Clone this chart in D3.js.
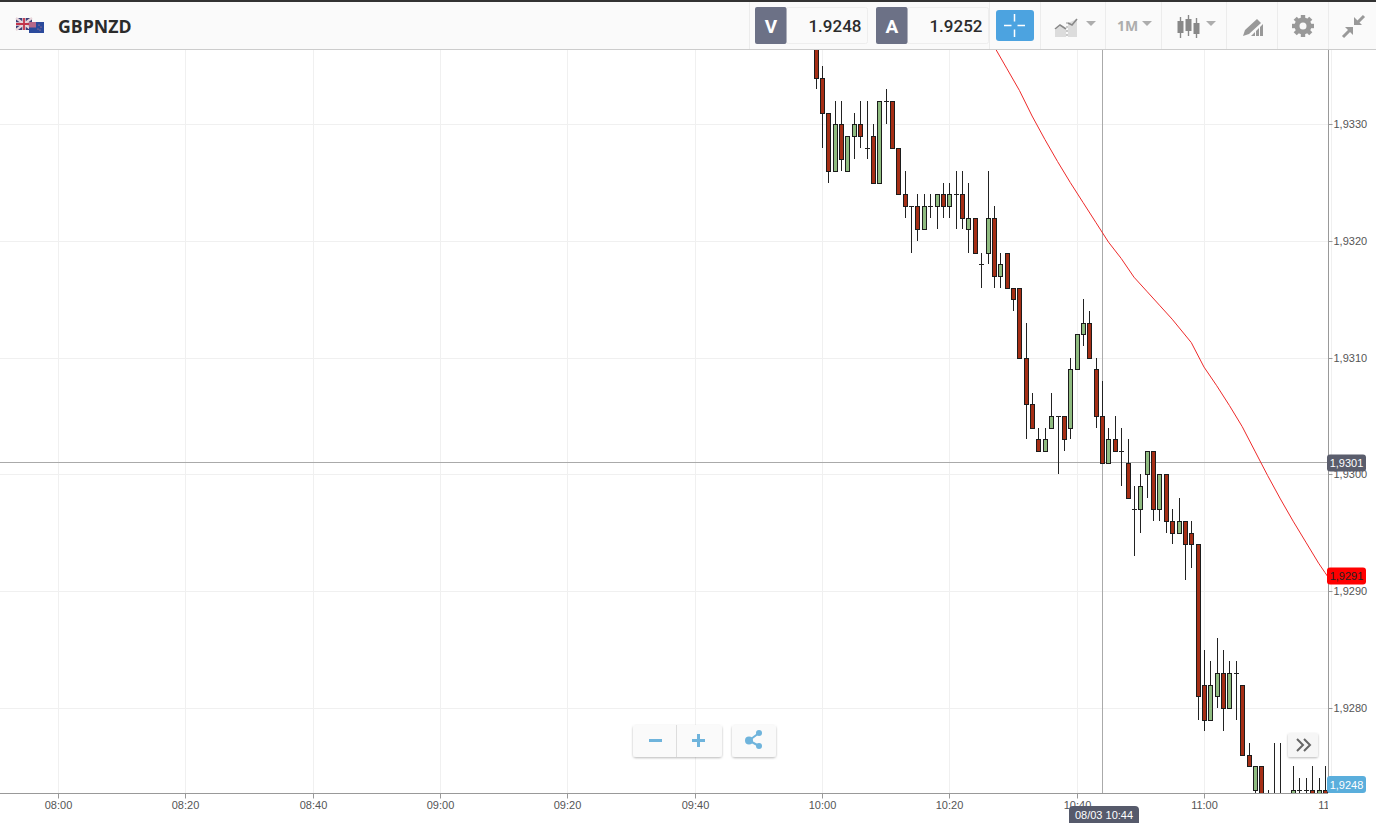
<!DOCTYPE html>
<html>
<head>
<meta charset="utf-8">
<script src="https://cdn.jsdelivr.net/npm/d3@7"></script>
<style>
html,body{margin:0;padding:0;background:#fff;overflow:hidden}
svg{display:block}
.axis text{font-family:"Liberation Sans",Arial,sans-serif;font-size:11px;fill:#555}
.pill{font-family:"Liberation Sans",Arial,sans-serif;font-size:11px}
</style>
</head>
<body>
<svg id="c" width="1376" height="823"></svg>
<script>
// ---- data ----
const symbol = "GBPNZD";
const bidPrice = "1.9248", askPrice = "1.9252";
const candleStart = "09:59";
const opens  = [1.9338,1.9334,1.9331,1.9326,1.9330,1.9326,1.9329,1.9330,1.9328,1.9329,1.9325,1.9332,1.9332,1.9328,1.9324,1.9323,1.9323,1.9321,1.9323,1.9323,1.9324,1.9323,1.9324,1.9324,1.9321,1.9322,1.9318,1.9319,1.9322,1.9317,1.9319,1.9316,1.9316,1.9310,1.9306,1.9303,1.9302,1.9304,1.9305,1.9305,1.9304,1.9309,1.9312,1.9313,1.9309,1.9305,1.9301,1.9303,1.9302,1.9301,1.9297,1.9297,1.9300,1.9302,1.9297,1.9300,1.9296,1.9295,1.9296,1.9295,1.9294,1.9282,1.9279,1.9281,1.9283,1.9280,1.9283,1.9282,1.9276,1.9273,1.9275,1.9272,1.9271,1.9271,1.9271,1.9272,1.9273,1.9273,1.9273,1.9272,1.9273];
const closes = [1.9334,1.9331,1.9326,1.9330,1.9327,1.9329,1.9330,1.9329,1.9328,1.9325,1.9332,1.9332,1.9328,1.9324,1.9323,1.9323,1.9321,1.9323,1.9323,1.9324,1.9323,1.9324,1.9324,1.9322,1.9322,1.9319,1.9318,1.9322,1.9317,1.9318,1.9316,1.9315,1.9310,1.9306,1.9304,1.9302,1.9303,1.9305,1.9305,1.9303,1.9309,1.9312,1.9313,1.9310,1.9305,1.9301,1.9303,1.9302,1.9302,1.9298,1.9297,1.9299,1.9302,1.9297,1.9300,1.9296,1.9295,1.9296,1.9294,1.9294,1.9281,1.9279,1.9282,1.9283,1.9280,1.9283,1.9283,1.9276,1.9275,1.9275,1.9272,1.9272,1.9270,1.9270,1.9270,1.9273,1.9273,1.9273,1.9272,1.9273,1.9272];
const highs  = [1.9339,1.9335,1.9331,1.9332,1.9332,1.9329,1.9331,1.9332,1.9332,1.9330,1.9332,1.9333,1.9332,1.9328,1.9326,1.9323,1.9324,1.9324,1.9324,1.9324,1.9325,1.9325,1.9326,1.9326,1.9325,1.9322,1.9319,1.9326,1.9323,1.9319,1.9319,1.9316,1.9316,1.9313,1.9307,1.9304,1.9304,1.9307,1.9305,1.9305,1.9310,1.9312,1.9315,1.9314,1.9310,1.9308,1.9304,1.9305,1.9304,1.9303,1.9299,1.9300,1.9302,1.9302,1.9300,1.9300,1.9297,1.9298,1.9296,1.9296,1.9294,1.9285,1.9284,1.9286,1.9285,1.9284,1.9284,1.9282,1.9277,1.9275,1.9275,1.9273,1.9277,1.9277,1.9271,1.9275,1.9274,1.9274,1.9275,1.9274,1.9275];
const lows   = [1.9333,1.9328,1.9325,1.9326,1.9326,1.9326,1.9327,1.9328,1.9327,1.9325,1.9325,1.9330,1.9328,1.9324,1.9322,1.9319,1.9320,1.9321,1.9322,1.9321,1.9322,1.9322,1.9321,1.9321,1.9319,1.9319,1.9316,1.9318,1.9316,1.9316,1.9316,1.9314,1.9310,1.9303,1.9304,1.9302,1.9302,1.9304,1.9300,1.9302,1.9303,1.9309,1.9311,1.9310,1.9304,1.9301,1.9301,1.9302,1.9299,1.9298,1.9293,1.9295,1.9298,1.9296,1.9296,1.9295,1.9294,1.9295,1.9291,1.9292,1.9279,1.9278,1.9279,1.9280,1.9278,1.9280,1.9279,1.9276,1.9275,1.9272,1.9271,1.9271,1.9269,1.9269,1.9269,1.9271,1.9271,1.9271,1.9271,1.9271,1.9271];
const avgTimes  = ["10:27","10:29","10:31","10:33","10:35","10:37","10:39","10:41","10:43","10:45","10:47","10:49","10:51","10:53","10:55","10:58","11:00","11:02","11:04","11:06","11:08","11:10","11:12","11:14","11:16","11:18","11:19","11:20"];
const avgValues = [1.93367,1.93348,1.93329,1.93307,1.93287,1.93268,1.93250,1.93233,1.93216,1.93199,1.93185,1.93169,1.93157,1.93145,1.93133,1.93113,1.93092,1.93076,1.93059,1.93041,1.93020,1.92999,1.92979,1.92960,1.92942,1.92924,1.92916,1.92908];
const timeTicks  = ["08:00","08:20","08:40","09:00","09:20","09:40","10:00","10:20","10:40","11:00","11:20"];
const priceTicks = [1.9330,1.9320,1.9310,1.9300,1.9290,1.9280];
const crossPrice = 1.9301, crossTime = "10:44", crossLabel = "08/03 10:44";
const avgLast = 1.92913, bidLast = 1.9248;

// ---- scales ----
const parseT = d3.timeParse("%H:%M");
const x = d3.scaleTime().domain([parseT("08:00"), parseT("11:20")]).range([58, 1331.33]);
const y = d3.scaleLinear().domain([1.9330, 1.9280]).range([124.2, 707.95]);
const comma = d3.formatLocale({decimal:",",thousands:".",grouping:[3],currency:["",""]}).format(".4f");
const W = 1328, T = 50, B = 793;
const px = v => Math.round(v) + .5;

const svg = d3.select("#c");
const defs = svg.append("defs");
defs.append("clipPath").attr("id","plot").append("rect").attr("x",0).attr("y",T).attr("width",W).attr("height",B-T);
defs.append("clipPath").attr("id","xclip").append("rect").attr("x",0).attr("y",B).attr("width",W).attr("height",30);
const f = defs.append("filter").attr("id","sh").attr("x","-20%").attr("y","-20%").attr("width","140%").attr("height","150%");
f.append("feDropShadow").attr("dx",0).attr("dy",1).attr("stdDeviation",1.2).attr("flood-color","#000").attr("flood-opacity",.28);

// ---- grid ----
const grid = svg.append("g").attr("stroke","#f0f0f0").attr("stroke-width",1);
grid.selectAll(".gx").data(timeTicks).join("line")
  .attr("x1",d=>px(x(parseT(d)))).attr("x2",d=>px(x(parseT(d)))).attr("y1",T).attr("y2",B);
grid.selectAll(".gy").data(priceTicks).join("line")
  .attr("y1",d=>px(y(d))).attr("y2",d=>px(y(d))).attr("x1",0).attr("x2",W);

// ---- crosshair (behind the candles) ----
svg.append("line").attr("x1",0).attr("x2",W).attr("y1",px(y(crossPrice))-1).attr("y2",px(y(crossPrice))-1).attr("stroke","#aaa");
svg.append("line").attr("x1",px(x(parseT(crossTime)))).attr("x2",px(x(parseT(crossTime)))).attr("y1",T).attr("y2",B).attr("stroke","#aaa");

// ---- plot ----
const plot = svg.append("g").attr("clip-path","url(#plot)");
const t0 = parseT(candleStart);
const cx = i => px(x(d3.timeMinute.offset(t0,i)));
const candles = plot.selectAll(".k").data(opens.map((o,i)=>({i,o,c:closes[i],h:highs[i],l:lows[i]}))).join("g");
candles.append("line").attr("x1",d=>cx(d.i)).attr("x2",d=>cx(d.i))
  .attr("y1",d=>Math.round(y(d.h))).attr("y2",d=>Math.round(y(d.l))).attr("stroke","#222");
candles.filter(d=>d.o===d.c).append("line")
  .attr("x1",d=>cx(d.i)-2.5).attr("x2",d=>cx(d.i)+2.5)
  .attr("y1",d=>px(y(d.o))).attr("y2",d=>px(y(d.o))).attr("stroke","#222");
candles.filter(d=>d.o!==d.c).append("rect")
  .attr("x",d=>cx(d.i)-2).attr("width",4)
  .attr("y",d=>px(y(Math.max(d.o,d.c))))
  .attr("height",d=>Math.round(y(Math.min(d.o,d.c)))-Math.round(y(Math.max(d.o,d.c))))
  .attr("fill",d=>d.c<d.o?"#a52e15":"#8fbc80").attr("stroke","#1c1c1c");

plot.append("path").datum(avgTimes.map((t,i)=>[parseT(t),avgValues[i]]))
  .attr("fill","none").attr("stroke","#ee2a2a").attr("stroke-width",1)
  .attr("d",d3.line().x(d=>x(d[0])).y(d=>y(d[1])));

// ---- axes ----
const axY = svg.append("g").attr("class","axis").attr("transform",`translate(${W+.5},0)`)
  .call(d3.axisRight(y).tickValues(priceTicks).tickFormat(comma).tickSize(4).tickPadding(1));
axY.select(".domain").attr("stroke","#999").attr("d",`M0,${T}V${B}`);
axY.selectAll("line").attr("stroke","#999");
axY.selectAll(".tick").attr("transform",d=>`translate(0,${px(y(d))})`);
const axX = svg.append("g").attr("clip-path","url(#xclip)").append("g").attr("class","axis").attr("transform",`translate(0,${B+.5})`)
  .call(d3.axisBottom(x).tickValues(timeTicks.map(parseT)).tickFormat(d3.timeFormat("%H:%M")).tickSize(5).tickPadding(3));
axX.select(".domain").attr("stroke","#999").attr("d",`M0,0H${W}`);
axX.selectAll("line").attr("stroke","#999");
axX.selectAll(".tick").attr("transform",d=>`translate(${px(x(d))},0)`);

// ---- price pills ----
function pill(v,fill,color){
  const yy = y(v);
  const g = svg.append("g").attr("class","pill");
  g.append("rect").attr("x",1327).attr("y",Math.round(yy)-8.5).attr("width",39).attr("height",17).attr("rx",3).attr("fill",fill);
  g.append("text").attr("x",1346.5).attr("y",Math.round(yy)+4).attr("text-anchor","middle").attr("fill",color).text(comma(v));
}
pill(crossPrice,"#5a5d6c","#fff");
pill(avgLast,"#ff0000","#222");
{
  const g = svg.append("g").attr("class","pill");
  g.append("rect").attr("x",1327).attr("y",776).attr("width",39).attr("height",17).attr("rx",3).attr("fill","#5aaedc");
  g.append("text").attr("x",1346.5).attr("y",789).attr("text-anchor","middle").attr("fill","#fff").text(comma(bidLast));
}
{
  const g = svg.append("g").attr("class","pill");
  g.append("rect").attr("x",1069).attr("y",806).attr("width",70).attr("height",20).attr("rx",4).attr("fill","#565a6b");
  g.append("text").attr("x",1104).attr("y",818.5).attr("text-anchor","middle").attr("fill","#fff").text(crossLabel);
}

// ---- header ----
const h = svg.append("g");
h.append("rect").attr("width",1376).attr("height",50).attr("fill","#fafafa");
h.append("rect").attr("width",1376).attr("height",2).attr("fill","#333");
h.append("rect").attr("y",49).attr("width",1376).attr("height",1).attr("fill","#ccc");
[749,989,1040,1105,1161,1226,1277,1328].forEach(v=>
  h.append("rect").attr("x",v).attr("y",2).attr("width",1).attr("height",47).attr("fill","#ececec"));

// flags
const uk = h.append("g");
uk.append("rect").attr("x",16).attr("y",18).attr("width",16).attr("height",12).attr("fill","#3b3f78");
uk.append("path").attr("d","M16,18L32,30M32,18L16,30").attr("stroke","#e8d5da").attr("stroke-width",2.2);
uk.append("path").attr("d","M24,18V30M16,24H32").attr("stroke","#e8d5da").attr("stroke-width",3.5);
uk.append("path").attr("d","M24,18V30M16,24H32").attr("stroke","#c2344a").attr("stroke-width",1.8);
const nz = h.append("g");
nz.append("rect").attr("x",29).attr("y",22).attr("width",15).attr("height",11).attr("fill","#2b4a9c");
nz.append("rect").attr("x",29).attr("y",22).attr("width",7).attr("height",5.5).attr("fill","#b7688a");
[[39,25],[41,27],[38,29],[40,30]].forEach(p=>nz.append("circle").attr("cx",p[0]).attr("cy",p[1]).attr("r",.6).attr("fill","#e88"));
h.append("text").text(symbol).attr("x",58).attr("y",33).attr("font-family","'Open Sans'").attr("font-weight",700).attr("font-size",17.7).attr("fill","#2b2b2b");

// price boxes
function box(x0,letter,val){
  h.append("rect").attr("x",x0+31.5).attr("y",7.5).attr("width",81).attr("height",36).attr("rx",2).attr("fill","#fafafa").attr("stroke","#eeeeee");
  h.append("rect").attr("x",x0).attr("y",7).attr("width",31.5).attr("height",37).attr("rx",2).attr("fill","#6c7186");
  h.append("text").text(letter).attr("x",x0+16).attr("y",32.5).attr("text-anchor","middle").attr("font-family","Roboto").attr("font-weight",700).attr("font-size",19).attr("fill","#fff");
  h.append("text").text(val).attr("x",x0+106.5).attr("y",31.5).attr("text-anchor","end").attr("font-family","Roboto").attr("font-weight",500).attr("font-size",17).attr("fill","#2b2b2b");
}
box(755,"V",bidPrice);
box(876,"A",askPrice);

// crosshair button
h.append("rect").attr("x",996).attr("y",10).attr("width",38).attr("height",31).attr("rx",3).attr("fill","#4ca3e0");
h.append("path").attr("d","M1004,25.5H1011.5M1017.5,25.5H1025M1014.5,14V21.5M1014.5,29.5V37").attr("stroke","#fff").attr("stroke-width",1.5);

const ic = "#adadad";
// area-chart icon
h.append("path").attr("d","M1055,37V30L1060,26L1066,30V37ZM1068,37V23L1077,19V37Z").attr("fill","#dcdcdc");
h.append("path").attr("d","M1055,29L1060,25L1066,29M1068,23L1072,25L1077,19").attr("fill","none").attr("stroke","#888").attr("stroke-width",1.6);
h.append("path").attr("d","M1067,22V37").attr("stroke","#999").attr("stroke-dasharray","2 2");
// dropdown arrows
[1091,1147,1211].forEach(v=>h.append("path").attr("d",`M${v-5},21H${v+5}L${v},26Z`).attr("fill",ic));
h.append("text").text("1M").attr("x",1117).attr("y",31).attr("font-family","'Open Sans'").attr("font-weight",700).attr("font-size",14).attr("fill",ic);
// candle icon
[[1180.5,21,33,17,38],[1188.5,19,31,15,36],[1196.5,23,34,18,38]].forEach(a=>{
  h.append("line").attr("x1",a[0]).attr("x2",a[0]).attr("y1",a[3]).attr("y2",a[4]).attr("stroke","#888").attr("stroke-width",1.4);
  h.append("rect").attr("x",a[0]-3).attr("y",a[1]).attr("width",6).attr("height",a[2]-a[1]).attr("fill","#888");
});
// pen icon with bars
h.append("path").attr("d","M1243,36L1245,30L1257,19L1261,23L1249,34ZM1251,36L1263,24V36Z").attr("fill","#999");
h.append("path").attr("d","M1255.5,36V30M1259.5,36V26").attr("stroke","#fafafa").attr("stroke-width",1);
// gear
const gear = h.append("g").attr("transform","translate(1303,26)");
d3.range(8).forEach(i=>gear.append("rect").attr("x",-2.2).attr("y",-11).attr("width",4.4).attr("height",5).attr("fill","#999").attr("transform",`rotate(${i*45})`));
gear.append("circle").attr("r",6).attr("fill","none").attr("stroke","#999").attr("stroke-width",5);
// compress arrows
h.append("path").attr("d","M1343,37L1350,30M1364,16L1357,23").attr("stroke","#999").attr("stroke-width",3);
h.append("path").attr("d","M1345,27H1353V35ZM1362,25H1354V17Z").attr("fill","#999");

// zoom controls
const z = svg.append("g");
z.append("rect").attr("x",633).attr("y",725).attr("width",89).attr("height",32).attr("rx",3).attr("fill","#fafafa").attr("filter","url(#sh)");
z.append("rect").attr("x",676).attr("y",725).attr("width",1).attr("height",32).attr("fill","#ddd");
z.append("rect").attr("x",732).attr("y",725).attr("width",44).attr("height",32).attr("rx",3).attr("fill","#fafafa").attr("filter","url(#sh)");
z.append("path").attr("d","M649,740.5H662M692,740.5H705M698.5,734V747").attr("stroke","#6fb4dc").attr("stroke-width",3);
z.append("path").attr("d","M759,733L749,740.5L759,746").attr("fill","none").attr("stroke","#6fb4dc").attr("stroke-width",2);
[[759,733,3],[749,740.5,4],[759,746,3]].forEach(p=>z.append("circle").attr("cx",p[0]).attr("cy",p[1]).attr("r",p[2]).attr("fill","#6fb4dc"));
// scroll-to-end
z.append("rect").attr("x",1288).attr("y",733).attr("width",30).attr("height",24).attr("rx",2).attr("fill","#f6f6f6").attr("filter","url(#sh)");
z.append("path").attr("d","M1297,739L1303,745L1297,751M1304,739L1310,745L1304,751").attr("fill","none").attr("stroke","#666").attr("stroke-width",2);
</script>
</body>
</html>
